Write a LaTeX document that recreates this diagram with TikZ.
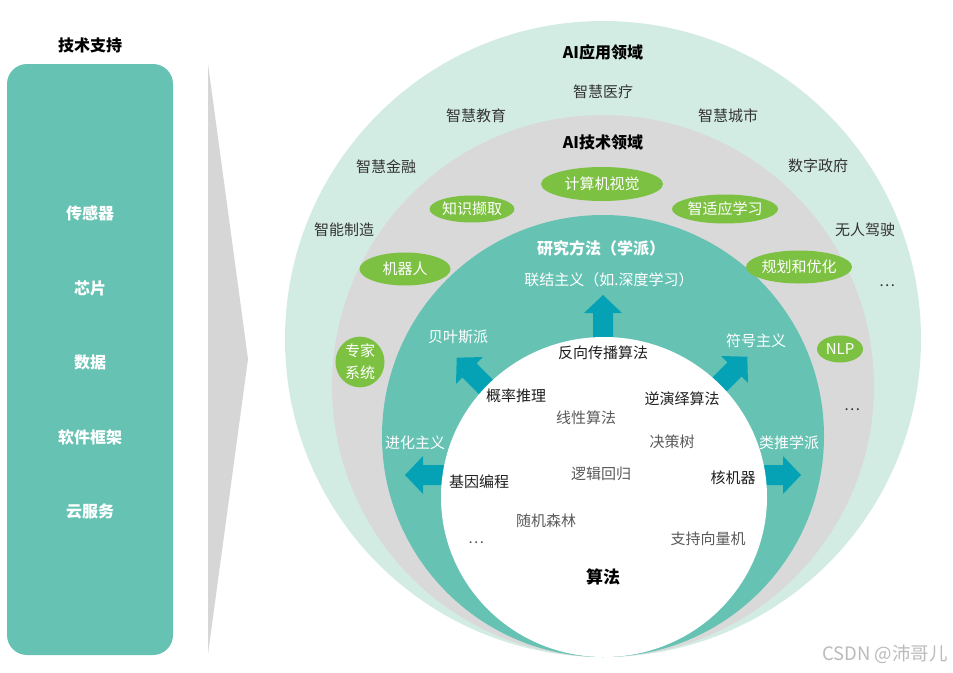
\documentclass[tikz,border=0pt]{standalone}
\usepackage{fontspec}
\newfontfamily\cjk{Noto Sans CJK SC}
\usetikzlibrary{shapes.geometric}
\definecolor{outerc}{HTML}{D3ECE3}
\definecolor{grayc}{HTML}{D9D9D9}
\definecolor{tealc}{HTML}{66C3B4}
\definecolor{greenc}{HTML}{7DC143}
\definecolor{arrowc}{HTML}{05A2B6}
\definecolor{txt}{HTML}{333333}
\definecolor{txtlight}{HTML}{5A5A5A}
\definecolor{tric}{HTML}{D6D6D6}
\definecolor{wmark}{HTML}{BBBBBB}
\newcommand\flowarrow[3]{\fill[arrowc, shift={(#1,#2)}, rotate=#3] (-20,-10) -- (22,-10) -- (22,-19) -- (40,0) -- (22,19) -- (22,10) -- (-20,10) -- cycle;}
\begin{document}
\begin{tikzpicture}[x=1pt,y=-1pt,
  lbl/.style={font=\cjk\fontsize{15}{18}\selectfont, text=txt, inner sep=0pt},
  ttl/.style={font=\cjk\bfseries\fontsize{16}{19}\selectfont, text=black, inner sep=0pt},
  wlbl/.style={font=\cjk\fontsize{15}{18}\selectfont, text=white, inner sep=0pt},
  wttl/.style={font=\cjk\bfseries\fontsize{16}{19}\selectfont, text=white, inner sep=0pt},
  algo/.style={font=\cjk\fontsize{15}{18}\selectfont, text=black!88, inner sep=0pt},
  algol/.style={font=\cjk\fontsize{15}{18}\selectfont, text=txtlight, inner sep=0pt},
  suppitem/.style={font=\cjk\bfseries\fontsize{16}{19}\selectfont, text=white, inner sep=0pt},
  pill/.style={ellipse, fill=greenc, text=white, font=\cjk\fontsize{15}{18}\selectfont, inner sep=0pt},
]
\useasboundingbox (0,0) rectangle (953,672);
\fill[white] (0,0) rectangle (953,672);

% left panel
\node[ttl] (ts) at (90,45) {技术支持};
\node[fill=tealc, rounded corners=20pt, minimum width=166pt, minimum height=591pt, inner sep=0pt] (panel) at (90,359.5) {};
\node[suppitem] (s1) at (90,213) {传感器};
\node[suppitem] (s2) at (90,288) {芯片};
\node[suppitem] (s3) at (90,362) {数据};
\node[suppitem] (s4) at (90,437) {软件框架};
\node[suppitem] (s5) at (90,511) {云服务};

% chevron
\fill[tric] (208,64) -- (248,359) -- (208,654) -- cycle;

% circles
\fill[outerc] (603,339) circle [radius=318pt];
\fill[grayc] (603,386) circle [radius=271pt];
\fill[tealc] (603,436) circle [radius=221pt];

% arrows (behind white circle)
\flowarrow{603}{335}{90}
\flowarrow{485}{386}{135}
\flowarrow{719}{385}{45}
\flowarrow{445}{475}{180}
\flowarrow{761}{475}{0}

\fill[white] (604,497) ellipse [x radius=163pt, y radius=160pt];

% outer ring texts
\node[ttl] (app) at (603,52) {AI应用领域};
\node[lbl] (a1) at (603,92) {智慧医疗};
\node[lbl] (a2) at (476,116) {智慧教育};
\node[lbl] (a3) at (728,116) {智慧城市};
\node[lbl] (a4) at (386,167) {智慧金融};
\node[lbl] (a5) at (818,166) {数字政府};
\node[lbl] (a6) at (344,230) {智能制造};
\node[lbl] (a7) at (865,230) {无人驾驶};
\node[lbl] (a8) at (887,286) {…};

% gray ring
\node[ttl] (tech) at (603,142) {AI技术领域};
\node[pill, minimum width=122pt, minimum height=34pt] (p1) at (602,184) {计算机视觉};
\node[pill, minimum width=80pt, minimum height=27pt] (p2) at (472,209) {知识撷取};
\node[pill, minimum width=90pt, minimum height=29pt] (p3) at (725,209) {智适应学习};
\node[pill, minimum width=91pt, minimum height=33pt] (p4) at (405,269) {机器人};
\node[pill, minimum width=91pt, minimum height=33pt] (p5) at (799,267) {规划和优化};
\node[pill, minimum width=46pt, minimum height=27pt] (p6) at (840,349) {NLP};
\node[pill, minimum width=49pt, minimum height=48pt, align=center, font=\cjk\fontsize{15}{22}\selectfont] (p7) at (360,362) {专家\\系统};
\node[lbl] (t8) at (852,410) {…};

% teal ring
\node[wttl] (meth) at (601,248) {研究方法（学派）};
\node[wlbl] (m1) at (609,280) {联结主义（如.深度学习）};
\node[wlbl] (m2) at (458,337) {贝叶斯派};
\node[wlbl] (m3) at (756,341) {符号主义};
\node[wlbl] (m4) at (415,443) {进化主义};
\node[wlbl] (m5) at (789,443) {类推学派};

% white circle
\node[algo] (g1) at (603,353) {反向传播算法};
\node[algo] (g2) at (516,396) {概率推理};
\node[algo] (g3) at (682,399) {逆演绎算法};
\node[algol] (g4) at (586,418) {线性算法};
\node[algol] (g5) at (672,442) {决策树};
\node[algol] (g6) at (601,474) {逻辑回归};
\node[algo] (g7) at (479,482) {基因编程};
\node[algo] (g8) at (733,478) {核机器};
\node[algol] (g9) at (546,521) {随机森林};
\node[algol] (g10) at (708,539) {支持向量机};
\node[algol] (g11) at (476,543) {…};
\node[font=\cjk\bfseries\fontsize{17}{20}\selectfont, text=black, inner sep=0pt] (alg) at (603,577) {算法};

% watermark
\node[font=\cjk\fontsize{18.5}{22}\selectfont, text=wmark, inner sep=0pt] (wm) at (885,654) {CSDN @沛哥儿};
\end{tikzpicture}
\end{document}
